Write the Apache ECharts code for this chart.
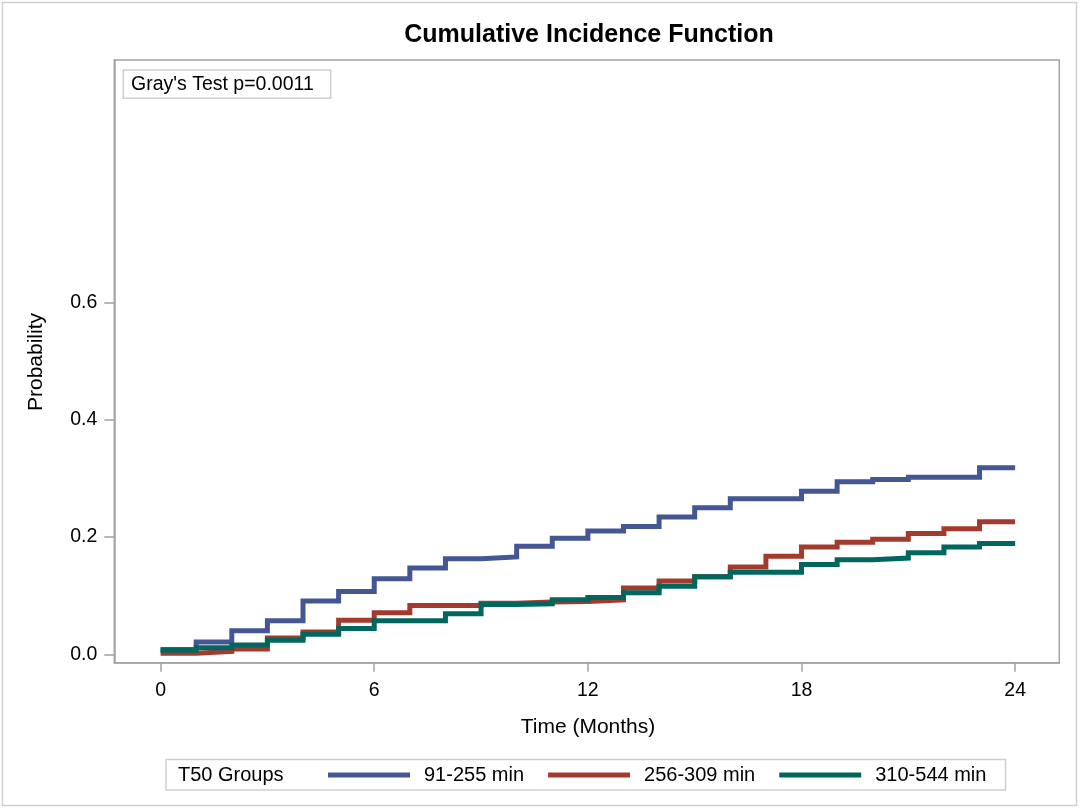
<!DOCTYPE html>
<html>
<head>
<meta charset="utf-8">
<script src="https://cdn.jsdelivr.net/npm/echarts@6/dist/echarts.min.js"></script>
<style>
html,body{margin:0;padding:0;background:#fff;}
#chart{width:1080px;height:810px;}
</style>
</head>
<body>
<div id="chart"></div>
<script>
var months = [0,1,2,3,4,5,6,7,8,9,10,11,12,13,14,15,16,17,18,19,20,21,22,23,24];
var group1 = [0.008,0.021,0.040,0.057,0.091,0.107,0.129,0.147,0.163,0.166,0.184,0.198,0.210,0.218,0.234,0.250,0.265,0.265,0.278,0.294,0.298,0.302,0.302,0.318,0.318];
var group2 = [0.002,0.005,0.009,0.028,0.038,0.058,0.071,0.083,0.083,0.087,0.089,0.090,0.093,0.113,0.125,0.132,0.149,0.167,0.183,0.191,0.196,0.206,0.214,0.226,0.226];
var group3 = [0.007,0.011,0.016,0.024,0.034,0.044,0.057,0.057,0.069,0.085,0.086,0.093,0.097,0.105,0.116,0.132,0.140,0.140,0.153,0.161,0.164,0.173,0.183,0.189,0.189];
var seriesNames = ['91-255 min','256-309 min','310-544 min'];
var xTicks = [0,6,12,18,24];
var yTicks = [0,0.2,0.4,0.6];
var titleText = 'Cumulative Incidence Function';
var xTitle = 'Time (Months)';
var yTitle = 'Probability';
var testText = "Gray's Test p=0.0011";
var legendTitle = 'T50 Groups';

var FONT = "'Liberation Sans', Arial, sans-serif";
var GRAY = '#a3a3a3';
var colors = ['#445694','#A23A2E','#01665E'];
var groups = [group1, group2, group3];

var chart = echarts.init(document.getElementById('chart'), null, {renderer:'canvas'});
var series = groups.map(function(g, si){
  return {
    name: seriesNames[si],
    type: 'line',
    step: 'end',
    symbol: 'none',
    data: months.map(function(m, i){ return [m, g[i]]; }),
    lineStyle: {width: 5, color: colors[si], join: 'miter', cap: 'butt'},
    itemStyle: {color: colors[si]},
    z: 3 + si
  };
});

chart.setOption({
  animation: false,
  backgroundColor: '#fff',
  grid: {left: 114.3, right: 20.7, top: 60, bottom: 147.3, show: true, borderColor: GRAY, borderWidth: 1.5, containLabel: false},
  xAxis: {
    type: 'value', min: -1.30, max: 25.24,
    axisLine: {show: true, onZero: false, lineStyle: {color: GRAY, width: 1.5}},
    axisTick: {show: true, length: 9, customValues: xTicks, lineStyle: {color: GRAY, width: 1.5}},
    axisLabel: {customValues: xTicks, margin: 18, color: '#000', fontSize: 19.5, fontFamily: FONT},
    splitLine: {show: false}
  },
  yAxis: {
    type: 'value', min: -0.0143, max: 1.013,
    axisLine: {show: true, onZero: false, lineStyle: {color: GRAY, width: 1.5}},
    axisTick: {show: true, length: 10, customValues: yTicks, lineStyle: {color: GRAY, width: 1.5}},
    axisLabel: {customValues: yTicks, margin: 17, color: '#000', fontSize: 19.5, fontFamily: FONT,
      formatter: function(v){ return v.toFixed(1); }},
    splitLine: {show: false}
  },
  legend: {
    data: seriesNames,
    left: 328, top: 765, padding: 0,
    icon: 'rect', itemWidth: 82, itemHeight: 5, itemGap: 24,
    textStyle: {color: '#000', fontSize: 20, fontFamily: FONT, padding: [0,0,0,9]},
    selectedMode: false
  },
  graphic: [
    {type: 'rect', shape: {x: 2.5, y: 2.5, width: 1074, height: 803}, style: {fill: 'none', stroke: '#cfcfcf', lineWidth: 1.5}, silent: true},
    {type: 'text', x: 589, y: 35, style: {text: titleText, font: 'bold 25px ' + FONT, fill: '#000', textAlign: 'center', textVerticalAlign: 'middle'}},
    {type: 'text', x: 588, y: 727, style: {text: xTitle, font: '21px ' + FONT, fill: '#000', textAlign: 'center', textVerticalAlign: 'middle'}},
    {type: 'text', x: 36, y: 362, rotation: Math.PI/2, style: {text: yTitle, font: '21px ' + FONT, fill: '#000', textAlign: 'center', textVerticalAlign: 'middle'}},
    {type: 'rect', shape: {x: 123.3, y: 70, width: 207.4, height: 28.3}, style: {fill: '#fff', stroke: '#cfcfcf', lineWidth: 1.5}, z: 10},
    {type: 'text', x: 131, y: 84.5, style: {text: testText, font: '19.5px ' + FONT, fill: '#000', textAlign: 'left', textVerticalAlign: 'middle'}, z: 11},
    {type: 'rect', shape: {x: 166, y: 759.5, width: 839.5, height: 30.5}, style: {fill: 'none', stroke: '#cfcfcf', lineWidth: 1.5}, z: 10},
    {type: 'text', x: 178, y: 775, style: {text: legendTitle, font: '20px ' + FONT, fill: '#000', textAlign: 'left', textVerticalAlign: 'middle'}, z: 11}
  ],
  series: series
});
</script>
</body>
</html>
